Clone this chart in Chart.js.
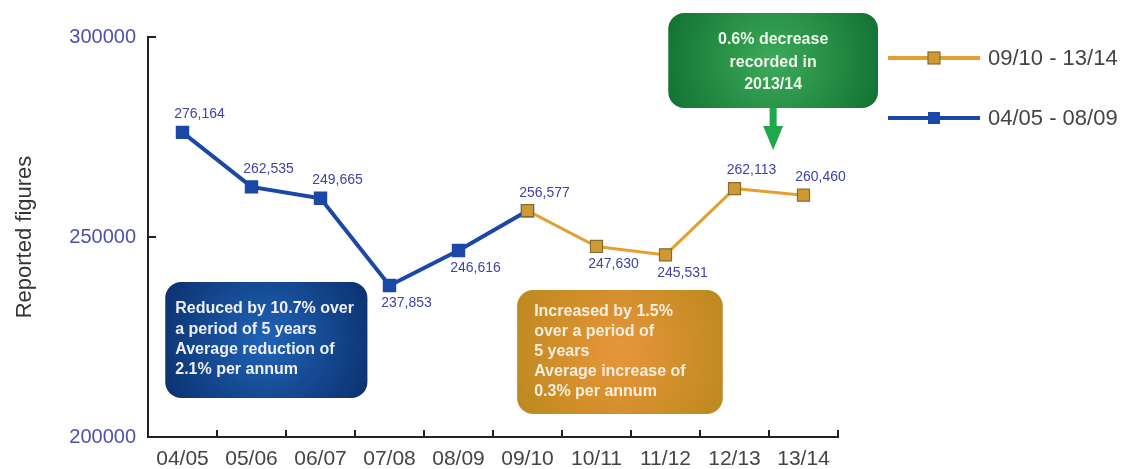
<!DOCTYPE html>
<html>
<head>
<meta charset="utf-8">
<script src="https://cdn.jsdelivr.net/npm/chart.js@4.4.1/dist/chart.umd.min.js"></script>
<style>
  html, body { margin: 0; padding: 0; background: #fff; }
  #wrap { width: 1121px; height: 469px; }
</style>
</head>
<body>
<div id="wrap"><canvas id="chart" width="1121" height="469"></canvas></div>
<script>
// Reported figures per year, split in two periods
const years = ['04/05', '05/06', '06/07', '07/08', '08/09', '09/10', '10/11', '11/12', '12/13', '13/14'];
const earlyValues = [276164, 262535, 259665, 237853, 246616, 256577, null, null, null, null];
const lateValues = [null, null, null, null, null, 256577, 247630, 245531, 262113, 260460];
// point labels as printed on the original (06/07 reads "249,665")
const valueLabels = ['276,164', '262,535', '249,665', '237,853', '246,616', '256,577', '247,630', '245,531', '262,113', '260,460'];
const labelSide = ['above', 'above', 'above', 'below', 'below', 'above', 'below', 'below', 'above', 'above'];
const seriesNames = ['09/10 - 13/14', '04/05 - 08/09'];
const yTicks = [200000, 250000, 300000];

const blueNote = ['Reduced by 10.7% over', 'a period of 5 years', 'Average reduction of', '2.1% per annum'];
const goldNote = ['Increased by 1.5%', 'over a period of', '5 years', 'Average increase of', '0.3% per annum'];
const greenNote = ['0.6% decrease', 'recorded in', '2013/14'];

const FONT = '"Liberation Sans", Arial, sans-serif';
const BLUE = '#1b47a6';
const GOLD = '#e3a02e';
const GOLD_PT = '#cf9a34';

// ticks pointing into the plot, like the original
const innerTicks = {
  id: 'innerTicks',
  afterDraw(chart) {
    const { ctx, scales: { x, y } } = chart;
    ctx.save();
    ctx.strokeStyle = '#222';
    ctx.lineWidth = 2;
    ctx.beginPath();
    yTicks.forEach((v) => {
      if (v === y.min) return;
      const py = Math.round(y.getPixelForValue(v));
      ctx.moveTo(x.left, py); ctx.lineTo(x.left + 8, py);
    });
    const half = (x.getPixelForValue(1) - x.getPixelForValue(0)) / 2;
    years.forEach((_, i) => {
      const px = Math.round(x.getPixelForValue(i) + half);
      ctx.moveTo(px, y.bottom); ctx.lineTo(px, y.bottom - 7);
    });
    ctx.stroke();
    ctx.restore();
  },
};

const pointLabels = {
  id: 'pointLabels',
  afterDatasetsDraw(chart) {
    const { ctx, scales: { x, y } } = chart;
    ctx.save();
    ctx.font = '14px ' + FONT;
    ctx.fillStyle = '#3f42a8';
    ctx.textAlign = 'center';
    ctx.textBaseline = 'middle';
    valueLabels.forEach((t, i) => {
      const v = earlyValues[i] != null ? earlyValues[i] : lateValues[i];
      const px = x.getPixelForValue(i) + 17;
      const py = y.getPixelForValue(v) + (labelSide[i] === 'above' ? -18 : 18);
      ctx.fillText(t, px, py);
    });
    ctx.restore();
  },
};

function noteBox(ctx, r, inner, outer, radius) {
  const cx = r.x + r.w / 2, cy = r.y + r.h / 2;
  const g = ctx.createRadialGradient(cx, cy, 4, cx, cy, Math.max(r.w, r.h) * 0.62);
  g.addColorStop(0, inner);
  g.addColorStop(1, outer);
  ctx.fillStyle = g;
  ctx.beginPath();
  ctx.roundRect(r.x, r.y, r.w, r.h, radius);
  ctx.fill();
}

// callout boxes, anchored in category / value space
const notes = {
  id: 'notes',
  afterDraw(chart) {
    const { ctx, scales: { x, y } } = chart;
    const box = (i0, i1, v0, v1) => {
      const x0 = x.getPixelForValue(i0), x1 = x.getPixelForValue(i1);
      const y0 = y.getPixelForValue(v0), y1 = y.getPixelForValue(v1);
      return { x: x0, y: y0, w: x1 - x0, h: y1 - y0 };
    };
    ctx.save();
    ctx.textBaseline = 'middle';
    ctx.font = 'bold 16px ' + FONT;

    const b = box(-0.25, 2.68, 238750, 209750);
    noteBox(ctx, b, '#1f62b4', '#0a2c68', 16);
    ctx.fillStyle = '#eef0f4';
    ctx.textAlign = 'left';
    blueNote.forEach((t, i) => ctx.fillText(t, b.x + 10, b.y + 27 + i * 20.3));

    const o = box(4.85, 7.83, 236750, 205750);
    noteBox(ctx, o, '#e8953a', '#b8881c', 16);
    ctx.fillStyle = '#f6efe0';
    goldNote.forEach((t, i) => ctx.fillText(t, o.x + 17, o.y + 22 + i * 20));

    const gr = box(7.04, 10.08, 306000, 282250);
    noteBox(ctx, gr, '#3aa958', '#0c6a2c', 16);
    ctx.fillStyle = '#eef6ea';
    ctx.textAlign = 'center';
    const gx = gr.x + gr.w / 2;
    greenNote.forEach((t, i) => ctx.fillText(t, gx, gr.y + 27 + i * 22.5));

    // arrow down from the green box
    const ax = gx, top = gr.y + gr.h, tip = y.getPixelForValue(271750);
    ctx.fillStyle = '#1fa84a';
    ctx.beginPath();
    ctx.moveTo(ax - 3.5, top); ctx.lineTo(ax + 3.5, top);
    ctx.lineTo(ax + 3.5, tip - 24); ctx.lineTo(ax + 10, tip - 24);
    ctx.lineTo(ax, tip); ctx.lineTo(ax - 10, tip - 24);
    ctx.lineTo(ax - 3.5, tip - 24); ctx.closePath();
    ctx.fill();
    ctx.restore();
  },
};

const sideLegend = {
  id: 'sideLegend',
  afterDraw(chart) {
    const { ctx } = chart;
    const x0 = chart.chartArea.right + 50;
    ctx.save();
    ctx.font = '22px ' + FONT;
    ctx.textBaseline = 'middle';
    ctx.textAlign = 'left';
    chart.data.datasets.forEach((ds, i) => {
      const ly = 58 + i * 60;
      ctx.strokeStyle = ds.borderColor;
      ctx.lineWidth = 4;
      ctx.beginPath(); ctx.moveTo(x0, ly); ctx.lineTo(x0 + 92, ly); ctx.stroke();
      ctx.fillStyle = ds.pointBackgroundColor;
      ctx.strokeStyle = ds.pointBorderColor;
      ctx.lineWidth = ds.pointBorderWidth;
      ctx.fillRect(x0 + 40, ly - 6, 12, 12);
      if (ds.pointBorderWidth) ctx.strokeRect(x0 + 40, ly - 6, 12, 12);
      ctx.fillStyle = '#444';
      ctx.fillText(seriesNames[i], x0 + 100, ly + 1);
    });
    ctx.restore();
  },
};

new Chart(document.getElementById('chart'), {
  type: 'line',
  data: {
    labels: years,
    datasets: [
      {
        label: seriesNames[0],
        data: lateValues,
        borderColor: GOLD,
        borderWidth: 3,
        pointStyle: 'rect',
        pointRadius: 8.5,
        pointBackgroundColor: GOLD_PT,
        pointBorderColor: '#8a6a2c',
        pointBorderWidth: 1.2,
        spanGaps: false,
      },
      {
        label: seriesNames[1],
        data: earlyValues,
        borderColor: BLUE,
        borderWidth: 4,
        pointStyle: 'rect',
        pointRadius: 9.5,
        pointBackgroundColor: BLUE,
        pointBorderColor: BLUE,
        pointBorderWidth: 0,
        spanGaps: false,
      },
    ],
  },
  options: {
    responsive: false,
    animation: false,
    devicePixelRatio: 1,
    layout: { padding: { top: 37, right: 283, left: 0, bottom: 0 } },
    plugins: { legend: { display: false }, tooltip: { enabled: false } },
    scales: {
      x: {
        offset: true,
        grid: { display: true, drawOnChartArea: false, drawTicks: false },
        border: { display: true, color: '#222', width: 2 },
        ticks: { color: '#444', font: { size: 21, family: FONT }, padding: 10, maxRotation: 0, autoSkip: false },
        afterFit(s) { s.height = 32; },
      },
      y: {
        min: 200000,
        max: 300000,
        afterBuildTicks(s) { s.ticks = yTicks.map((v) => ({ value: v })); },
        grid: { display: true, drawOnChartArea: false, drawTicks: false },
        border: { display: true, color: '#222', width: 2 },
        ticks: { color: '#4b52aa', font: { size: 20, family: FONT }, padding: 12, callback: (v) => String(v) },
        title: { display: true, text: 'Reported figures', color: '#333', font: { size: 22, family: FONT }, padding: { top: 12, bottom: 0 } },
        afterFit(s) { s.width = 148; },
      },
    },
  },
  plugins: [innerTicks, notes, pointLabels, sideLegend],
});
</script>
</body>
</html>
